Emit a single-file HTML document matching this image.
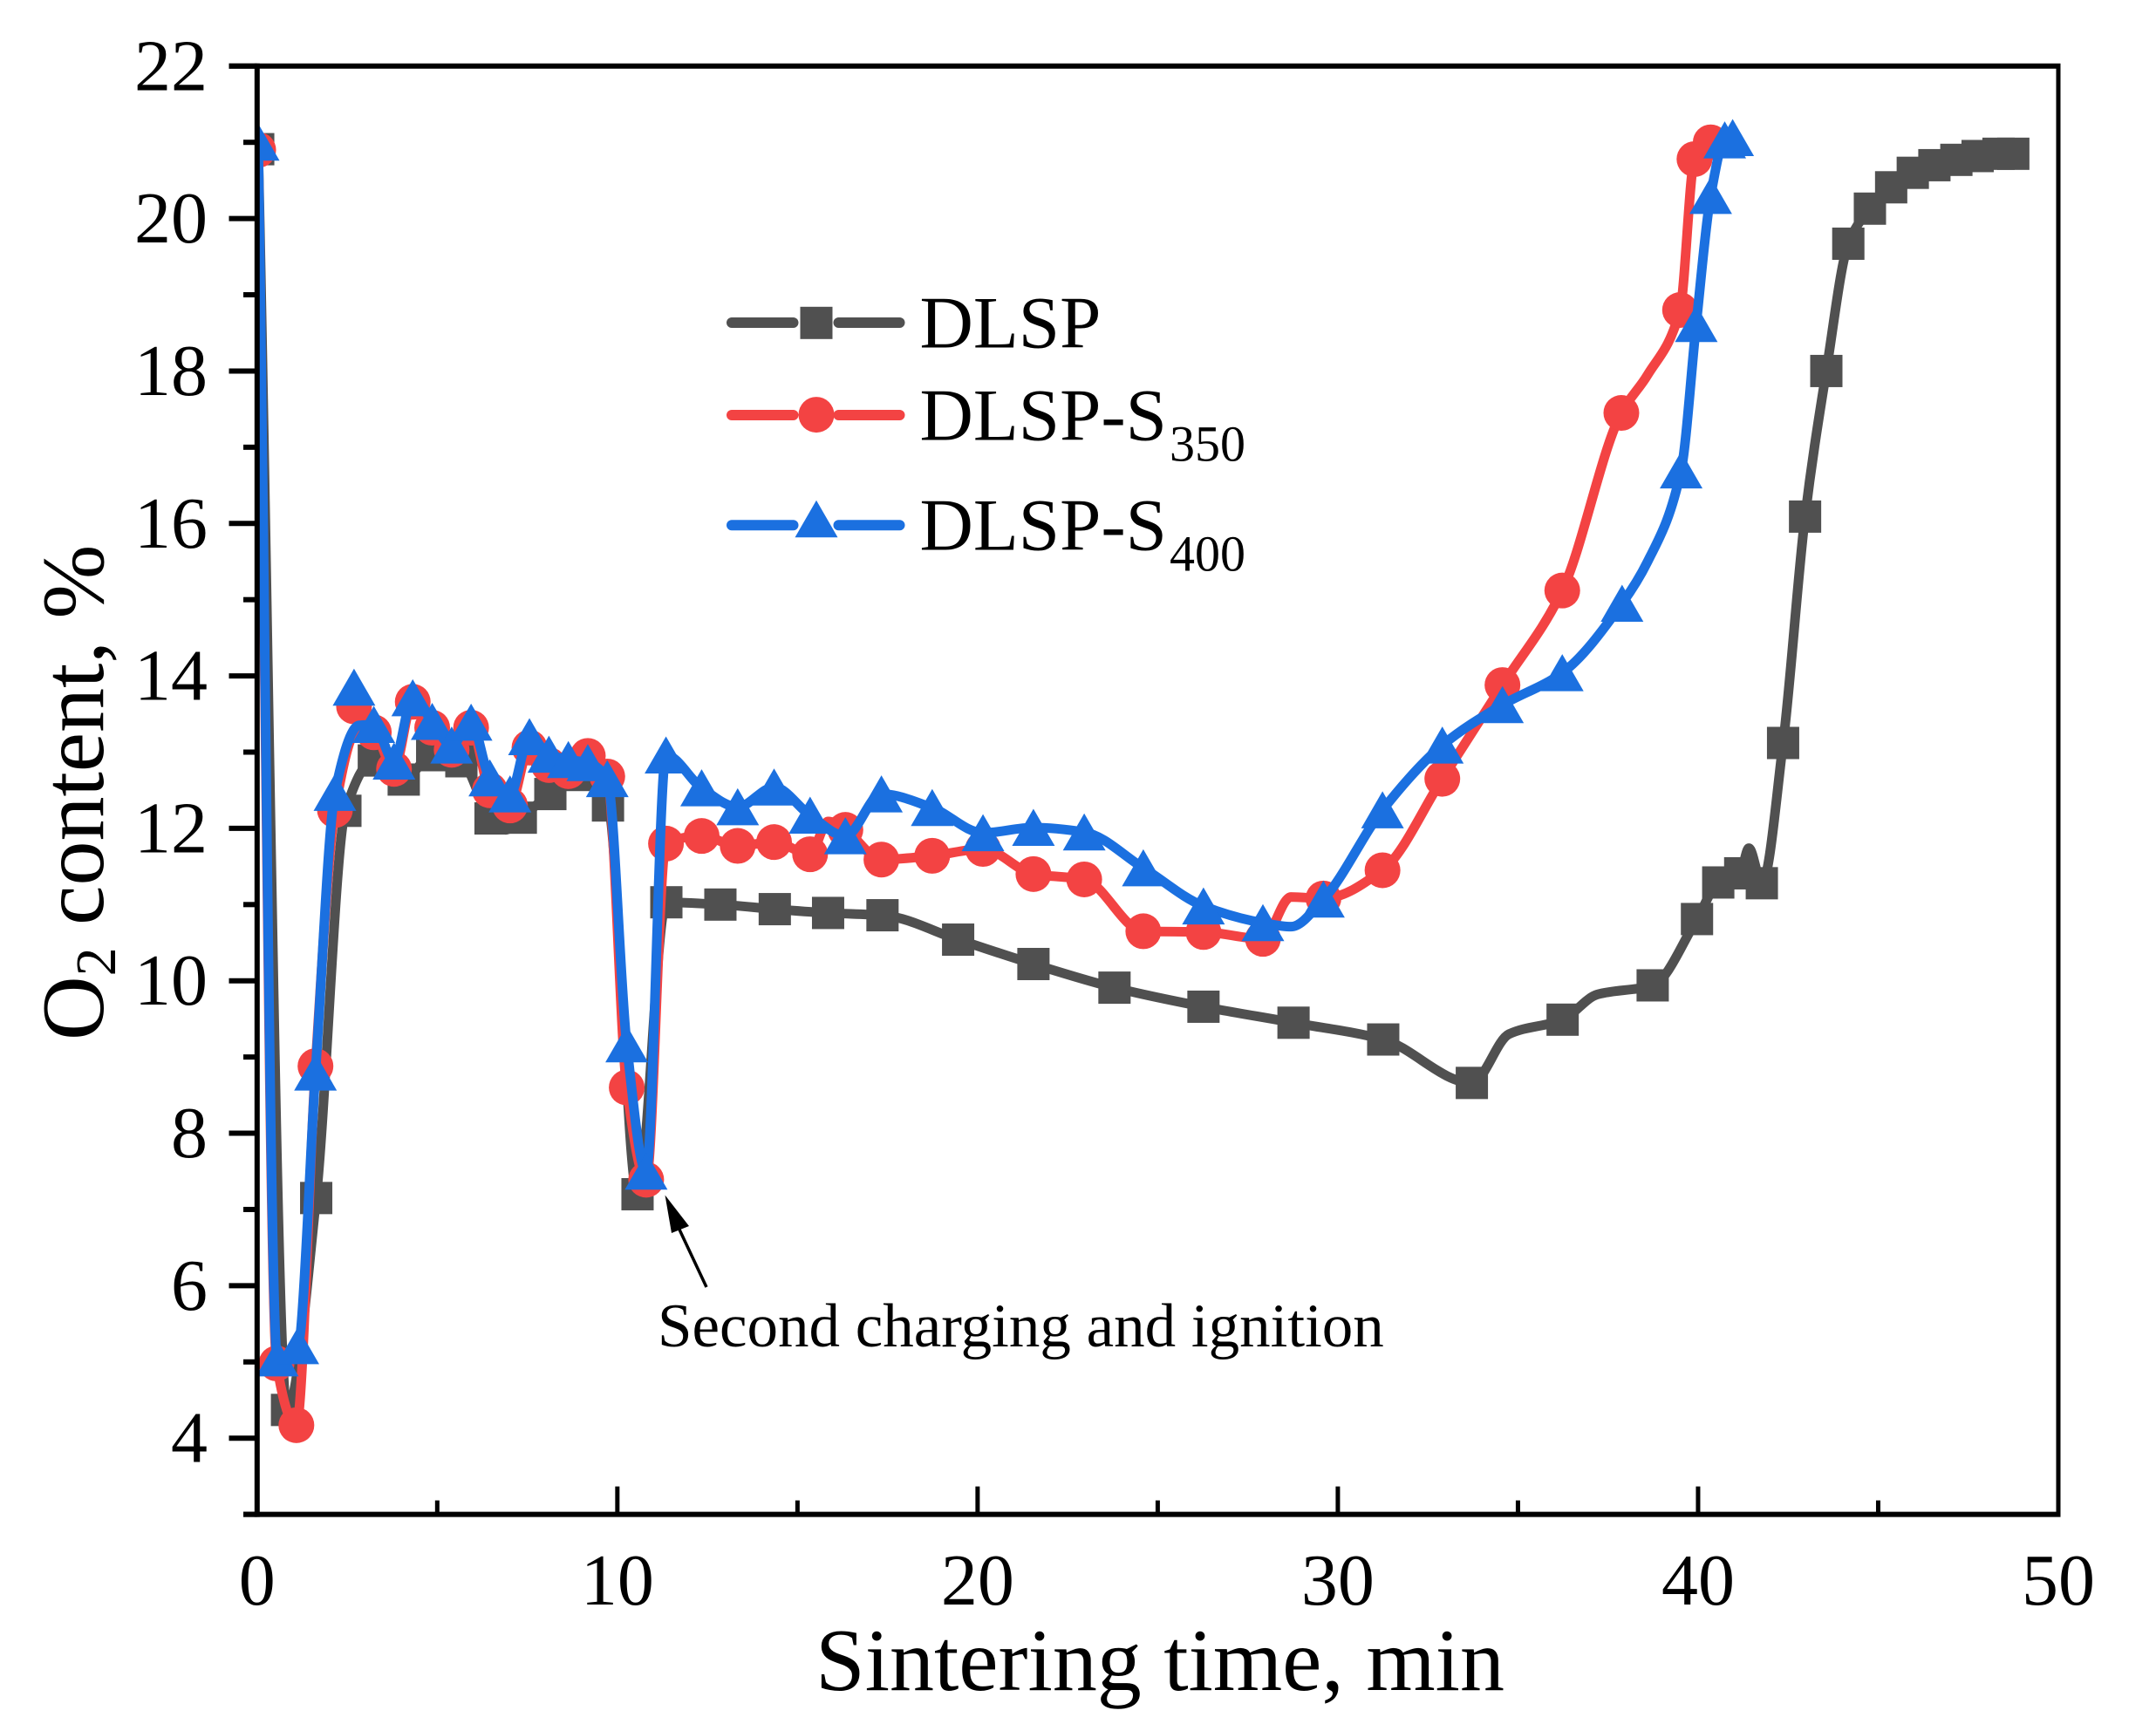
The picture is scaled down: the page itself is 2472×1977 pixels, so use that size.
<!DOCTYPE html>
<html>
<head>
<meta charset="utf-8">
<title>O2 content vs sintering time</title>
<style>
html,body{margin:0;padding:0;background:#fff;}
svg{display:block;}
text{font-family:"Liberation Serif",serif;fill:#000;}
</style>
</head>
<body>
<svg id="chart" width="2472" height="1977" viewBox="0 0 2472 1977" xmlns="http://www.w3.org/2000/svg">
<defs><clipPath id="plot-clip"><rect x="295" y="76" width="2065" height="1661"/></clipPath></defs>
<g id="series" clip-path="url(#plot-clip)"></g>
<g id="axes"></g>
<g id="legend"></g>
<text x="935" y="1938" font-size="102" textLength="790">Sintering time, min</text>
<text transform="translate(118,1193) rotate(-90)" font-size="102">O<tspan font-size="66" dy="14">2</tspan><tspan dy="-14"> content, %</tspan></text>
<text x="754" y="1544" font-size="71">Second charging and ignition</text>
<line x1="810" y1="1476" x2="779" y2="1410" stroke="#000" stroke-width="3.5"/>
<polygon points="762.5,1370.5 770,1414 790,1406" fill="#000"/>
</svg>
<script>
const xMajorTicks = [0, 10, 20, 30, 40, 50];
const xMinorTicks = [5, 15, 25, 35, 45];
const yMajorTicks = [4, 6, 8, 10, 12, 14, 16, 18, 20, 22];
const yMinorTicks = [3, 5, 7, 9, 11, 13, 15, 17, 19, 21];

const dlspTimes = [0.03,0.83,1.64,2.45,3.24,4.07,4.86,5.67,6.48,7.32,8.14,8.9,9.74,10.56,11.36,12.86,14.37,15.85,17.36,19.46,21.55,23.8,26.27,28.77,31.26,33.72,36.24,38.74,39.97,40.56,41.17,41.77,42.36,42.97,43.56,44.17,44.77,45.36,45.96,46.56,47.17,47.76,48.34,48.75];
const dlspValues = [20.91,4.37,7.15,12.23,12.89,12.64,12.96,12.88,12.13,12.14,12.45,12.7,12.3,7.2,11.03,11.0,10.94,10.89,10.86,10.54,10.22,9.91,9.66,9.45,9.23,8.66,9.49,9.94,10.81,11.29,11.41,11.28,13.12,16.09,18.0,19.67,20.13,20.41,20.6,20.7,20.77,20.82,20.85,20.85];
const dlspCurveTimes = [6.9,34.75,37.2,41.41];
const dlspCurveValues = [11.98,9.3,9.82,11.74];
const dlspCurveSkip = [];

const s350Times = [0.03,0.54,1.09,1.62,2.16,2.69,3.24,3.8,4.32,4.86,5.4,5.94,6.46,7.02,7.56,8.1,8.64,9.18,9.72,10.26,10.8,11.35,12.34,13.34,14.35,15.35,16.33,17.33,18.74,20.15,21.55,22.96,24.6,26.27,27.92,29.6,31.24,32.9,34.57,36.23,37.87,39.5,39.9,40.35];
const s350Values = [20.9,4.98,4.17,8.88,12.24,13.6,13.26,12.78,13.66,13.32,13.03,13.32,12.5,12.3,13.06,12.83,12.75,12.95,12.68,8.6,7.39,11.8,11.9,11.77,11.82,11.66,11.98,11.59,11.64,11.73,11.4,11.33,10.65,10.64,10.55,11.08,11.45,12.65,13.88,15.12,17.45,18.8,20.78,21.0];
const s350CurveTimes = [2.8,15.85,28.7,38.6];
const s350CurveValues = [13.3,12.09,11.1,17.95];
const s350CurveSkip = [5];

const s400Times = [0.03,0.56,1.13,1.62,2.16,2.69,3.24,3.8,4.32,4.86,5.4,5.94,6.46,7.02,7.56,8.1,8.64,9.18,9.72,10.26,10.8,11.35,12.34,13.34,14.35,15.35,16.33,17.33,18.74,20.15,21.55,22.96,24.6,26.27,27.92,29.6,31.24,32.9,34.57,36.23,37.89,39.53,39.95,40.35,40.74,40.96];
const s400Values = [21.0,5.05,5.21,8.8,12.47,13.85,13.36,12.88,13.71,13.4,13.09,13.39,12.66,12.45,13.2,12.97,12.9,12.86,12.65,9.17,7.5,12.96,12.53,12.28,12.54,12.17,11.9,12.45,12.27,11.94,12.01,11.95,11.48,10.98,10.76,11.07,12.24,13.09,13.62,14.04,14.95,16.7,18.62,20.3,21.03,21.06];
const s400CurveTimes = [2.83,28.7,38.6];
const s400CurveValues = [13.35,10.71,15.5];
const s400CurveSkip = [5];

const legendLabels = ['DLSP', 'DLSP-S', 'DLSP-S'];
const legendSubs = ['', '350', '400'];

const NS = 'http://www.w3.org/2000/svg';
const X0 = 294.8, X1 = 2360, Y3 = 1736.6, Y22 = 75.8;
function xScale(t){ return X0 + (t / 50) * (X1 - X0); }
function yScale(v){ return Y3 - ((v - 3) / 19) * (Y3 - Y22); }
function make(tag, attrs, parent){
  const el = document.createElementNS(NS, tag);
  for (const k in attrs) el.setAttribute(k, attrs[k]);
  parent.appendChild(el);
  return el;
}
function splinePath(pts){
  const n = pts.length, s = [], h = [], m = [];
  for (let i = 0; i < n - 1; i++){
    h[i] = pts[i + 1][0] - pts[i][0];
    s[i] = (pts[i + 1][1] - pts[i][1]) / h[i];
  }
  m[0] = s[0];
  m[n - 1] = s[n - 2];
  for (let i = 1; i < n - 1; i++){
    if (s[i - 1] * s[i] <= 0){ m[i] = 0; continue; }
    const w1 = 2 * h[i] + h[i - 1], w2 = h[i] + 2 * h[i - 1];
    m[i] = (w1 + w2) / (w1 / s[i - 1] + w2 / s[i]);
  }
  let d = 'M' + pts[0][0].toFixed(2) + ' ' + pts[0][1].toFixed(2);
  for (let i = 0; i < n - 1; i++){
    d += ' C' + (pts[i][0] + h[i] / 3).toFixed(2) + ' ' + (pts[i][1] + m[i] * h[i] / 3).toFixed(2) + ' ' +
         (pts[i + 1][0] - h[i] / 3).toFixed(2) + ' ' + (pts[i + 1][1] - m[i + 1] * h[i] / 3).toFixed(2) + ' ' +
         pts[i + 1][0].toFixed(2) + ' ' + pts[i + 1][1].toFixed(2);
  }
  return d;
}
function drawMarker(kind, cx, cy, color, parent){
  if (kind === 'square') return make('rect', {x: cx - 18.5, y: cy - 18.5, width: 37, height: 37, fill: color}, parent);
  if (kind === 'circle') return make('circle', {cx: cx, cy: cy, r: 20.5, fill: color}, parent);
  return make('polygon', {points: cx + ',' + (cy - 21.5) + ' ' + (cx - 24.5) + ',' + (cy + 21) + ' ' + (cx + 24.5) + ',' + (cy + 21), fill: color}, parent);
}
function drawSeries(name, times, values, curveTimes, curveValues, curveSkip, kind, color){
  const layer = document.getElementById('series');
  const g = make('g', {}, layer);
  
  
  const knots = [];
  times.forEach((t, i) => { if (curveSkip.indexOf(i) < 0) knots.push([t, values[i]]); });
  curveTimes.forEach((t, i) => knots.push([t, curveValues[i]]));
  knots.sort((a, b) => a[0] - b[0]);
  const linePts = knots.map(k => [xScale(k[0]), yScale(k[1])]);
  const path = make('path', {d: splinePath(linePts), fill: 'none', stroke: color, 'stroke-width': 11, 'stroke-linejoin': 'round'}, g);
  
  
  times.forEach((t, i) => {
    const m = drawMarker(kind, xScale(t), yScale(values[i]), color, g);
    
    
  });
}
drawSeries('dlsp', dlspTimes, dlspValues, dlspCurveTimes, dlspCurveValues, dlspCurveSkip, 'square', '#505050');
drawSeries('dlsp-s350', s350Times, s350Values, s350CurveTimes, s350CurveValues, s350CurveSkip, 'circle', '#f34343');
drawSeries('dlsp-s400', s400Times, s400Values, s400CurveTimes, s400CurveValues, s400CurveSkip, 'triangle', '#1b70e0');

const axes = document.getElementById('axes');
const frameLeft = make('line', {x1: X0, y1: Y22 - 3, x2: X0, y2: Y3 + 3, stroke: '#000', 'stroke-width': 6}, axes);


const frameBottom = make('line', {x1: 279, y1: Y3, x2: X1 + 2.5, y2: Y3, stroke: '#000', 'stroke-width': 6}, axes);


const frameTop = make('line', {x1: 262.5, y1: Y22, x2: X1 + 2.5, y2: Y22, stroke: '#000', 'stroke-width': 6}, axes);


const frameRight = make('line', {x1: X1, y1: Y22, x2: X1, y2: Y3, stroke: '#000', 'stroke-width': 5}, axes);



xMajorTicks.forEach(t => {
  const tick = make('line', {x1: xScale(t), y1: Y3, x2: xScale(t), y2: Y3 - 32, stroke: '#000', 'stroke-width': 5}, axes);
  
  
  const label = make('text', {x: xScale(t), y: 1840, 'font-size': 84, 'text-anchor': 'middle'}, axes);
  
  
  label.textContent = String(t);
});
xMinorTicks.forEach(t => {
  const tick = make('line', {x1: xScale(t), y1: Y3, x2: xScale(t), y2: Y3 - 16, stroke: '#000', 'stroke-width': 5}, axes);
  
  
});
yMajorTicks.forEach(v => {
  const tick = make('line', {x1: X0, y1: yScale(v), x2: 262.5, y2: yScale(v), stroke: '#000', 'stroke-width': 6}, axes);
  
  
  const label = make('text', {x: 238, y: yScale(v) + 27.5, 'font-size': 84, 'text-anchor': 'end'}, axes);
  
  
  label.textContent = String(v);
});
yMinorTicks.forEach(v => {
  const tick = make('line', {x1: X0, y1: yScale(v), x2: 279, y2: yScale(v), stroke: '#000', 'stroke-width': 6}, axes);
  
  
});

const legend = document.getElementById('legend');
const legendColors = ['#505050', '#f34343', '#1b70e0'];
const legendKinds = ['square', 'circle', 'triangle'];
const legendLineY = [370, 476, 602.3];
const legendMarkerY = [370.3, 475.6, 595.3];
const legendTextY = [398.3, 504.3, 630.3];
legendLabels.forEach((lab, i) => {
  const lineA = make('line', {x1: 839, y1: legendLineY[i], x2: 909.5, y2: legendLineY[i], stroke: legendColors[i], 'stroke-width': 12, 'stroke-linecap': 'round'}, legend);
  
  
  const lineB = make('line', {x1: 961.5, y1: legendLineY[i], x2: 1031.5, y2: legendLineY[i], stroke: legendColors[i], 'stroke-width': 12, 'stroke-linecap': 'round'}, legend);
  
  
  const m = drawMarker(legendKinds[i], 936, legendMarkerY[i], legendColors[i], legend);
  
  
  const txt = make('text', {x: 1054.5, y: legendTextY[i], 'font-size': 85}, legend);
  
  
  txt.textContent = lab;
  if (legendSubs[i]){
    const sub = make('tspan', {'font-size': 58, dy: 24, dx: 3}, txt);
    sub.textContent = legendSubs[i];
  }
});
</script>
</body>
</html>
